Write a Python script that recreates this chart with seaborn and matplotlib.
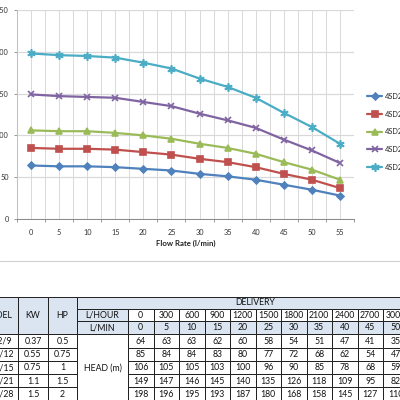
import numpy as np
import pandas as pd
import seaborn as sns
import matplotlib.pyplot as plt
from matplotlib.patches import Rectangle
from matplotlib.lines import Line2D

flow = [0, 5, 10, 15, 20, 25, 30, 35, 40, 45, 50, 55]
l_hour = [0, 300, 600, 900, 1200, 1500, 1800, 2100, 2400, 2700, 3000, 3300]
models = ['4SD2/9', '4SD2/12', '4SD2/15', '4SD2/21', '4SD2/28']
kw = ['0.37', '0.55', '0.75', '1.1', '1.5']
hp = ['0.5', '0.75', '1', '1.5', '2']
head_9 = [64, 63, 63, 62, 60, 58, 54, 51, 47, 41, 35, 28]
head_12 = [85, 84, 84, 83, 80, 77, 72, 68, 62, 54, 47, 37]
head_15 = [106, 105, 105, 103, 100, 96, 90, 85, 78, 68, 59, 47]
head_21 = [149, 147, 146, 145, 140, 135, 126, 118, 109, 95, 82, 67]
head_28 = [198, 196, 195, 193, 187, 180, 168, 158, 145, 127, 110, 90]
heads = [head_9, head_12, head_15, head_21, head_28]

colors = ['#4F81BD', '#C0504D', '#9BBB59', '#8064A2', '#4BACC6']
markers = ['D', 's', '^', 'x', (6, 2, 0)]
msizes = [3.5, 4.5, 4.5, 5, 6]

sns.set_style("white")
plt.rcParams['font.family'] = ['Lato', 'DejaVu Sans']

fig = plt.figure(figsize=(4, 4), dpi=100)
ax = fig.add_axes([17/400, 1 - 219/400, 337/400, 209/400])

for name, h, c, m, ms in zip(models, heads, colors, markers, msizes):
    sns.lineplot(x=flow, y=h, ax=ax, color=c, marker=m, markersize=ms,
                 markeredgecolor=c, markeredgewidth=1.2, linewidth=1.6, label=name)

ax.set_xlim(-2.5, 57.5)
ax.set_ylim(0, 250)
ax.set_xticks(flow)
ax.set_xticks(np.arange(-2.5, 58, 5), minor=True)
ax.set_yticks([0, 50, 100, 150, 200, 250])
ax.grid(True, which='both', axis='x', color='#D9D9D9', linewidth=0.7)
ax.grid(True, which='major', axis='y', color='#D9D9D9', linewidth=0.9)
ax.tick_params(axis='x', which='major', length=0, pad=7, labelsize=5.3, colors='#333333')
ax.tick_params(axis='x', which='minor', length=2.5, width=0.6, color='#888888', direction='out', bottom=True)
ax.tick_params(axis='y', length=2, width=0.6, color='#888888', pad=4, labelsize=5.3, colors='#333333', left=True)
for s in ['top', 'right']:
    ax.spines[s].set_visible(False)
ax.spines['left'].set_color('#BFBFBF')
ax.spines['bottom'].set_color('#888888')
for s in ['left', 'bottom']:
    ax.spines[s].set_linewidth(0.7)
ax.set_xlabel('Flow Rate (l/min)', fontsize=5.6, fontweight='bold', labelpad=3, color='#222222')
ax.set_ylabel('')
ax.legend(loc='upper left', bbox_to_anchor=(367/400, 1 - 93/400), bbox_transform=fig.transFigure,
          frameon=False, borderaxespad=0, borderpad=0, handletextpad=0.3, handlelength=2.1,
          labelspacing=1.45, fontsize=5.3)

# chart area bottom border
fig.add_artist(Line2D([0, 1], [1 - 261/400, 1 - 261/400], transform=fig.transFigure,
                      color='#D0D0D0', linewidth=0.8))

# table, drawn in pixel coordinates
tb = fig.add_axes([0, 0, 1, 1])
tb.set_xlim(0, 400)
tb.set_ylim(400, 0)
tb.axis('off')
tb.patch.set_alpha(0)

blue = '#DBE5F1'
edge = '#1F1F1F'
fs = 6.3
col_x = [-24, 18, 48, 77, 128]
dw = 25.5
hdr_y = [296.5, 308.7, 321.0, 334.2]
rh = 13.3


def cell(x0, x1, y0, y1, text='', fill='white'):
    tb.add_patch(Rectangle((x0, y0), x1 - x0, y1 - y0, facecolor=fill, edgecolor=edge, linewidth=0.7))
    if text:
        tb.text((x0 + x1) / 2, (y0 + y1) / 2 + 0.3, text, ha='center', va='center', fontsize=fs, color='#111111')


cell(col_x[0], col_x[1], hdr_y[0], hdr_y[3], 'MODEL', blue)
cell(col_x[1], col_x[2], hdr_y[0], hdr_y[3], 'KW', blue)
cell(col_x[2], col_x[3], hdr_y[0], hdr_y[3], 'HP', blue)
cell(col_x[3], col_x[4] + dw * len(flow), hdr_y[0], hdr_y[1], 'DELIVERY', blue)
cell(col_x[3], col_x[4], hdr_y[1], hdr_y[2], 'L/HOUR', blue)
cell(col_x[3], col_x[4], hdr_y[2], hdr_y[3], 'L/MIN', blue)
for i, (lh, lm) in enumerate(zip(l_hour, flow)):
    x0 = col_x[4] + dw * i
    cell(x0, x0 + dw, hdr_y[1], hdr_y[2], str(lh))
    cell(x0, x0 + dw, hdr_y[2], hdr_y[3], str(lm), blue)

y_top = hdr_y[3]
cell(col_x[3], col_x[4], y_top, y_top + rh * len(models), 'HEAD (m)')
for r, (name, k, p, h) in enumerate(zip(models, kw, hp, heads)):
    y0 = y_top + rh * r
    cell(col_x[0], col_x[1], y0, y0 + rh, name)
    cell(col_x[1], col_x[2], y0, y0 + rh, k)
    cell(col_x[2], col_x[3], y0, y0 + rh, p)
    for i, v in enumerate(h):
        x0 = col_x[4] + dw * i
        cell(x0, x0 + dw, y0, y0 + rh, str(v))

fig.savefig('out.png', dpi=100)
